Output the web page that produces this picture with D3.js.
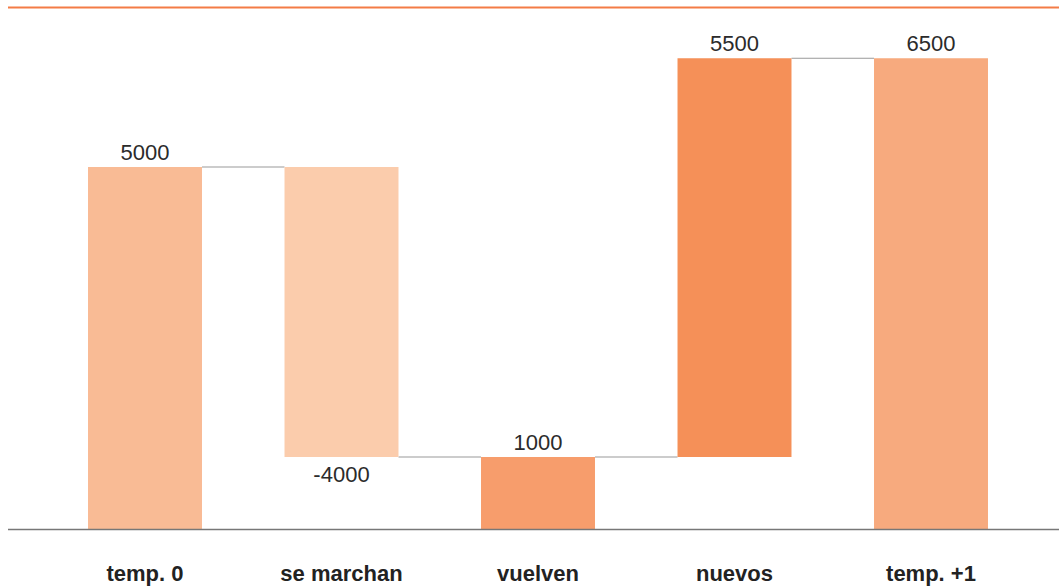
<!DOCTYPE html>
<html><head><meta charset="utf-8">
<script src="https://cdn.jsdelivr.net/npm/d3@7"></script>
<style>body{margin:0;background:#fff;}svg{display:block;font-family:"Liberation Sans",Arial,Helvetica,sans-serif;}</style>
</head><body><svg id="c" width="1059" height="586"></svg>
<script>
const categories = ["temp. 0","se marchan","vuelven","nuevos","temp. +1"];
const barStart = [0, 5000, 0, 1000, 0];
const barEnd   = [5000, 1000, 1000, 6500, 6500];
const valueLabels = ["5000","-4000","1000","5500","6500"];
const colors = ["#F9BB95","#FBCCAC","#F79D6C","#F59058","#F7AA7E"];

const svg = d3.select("#c");
const W = 1059;
const x = d3.scaleBand().domain(categories).range([46.75, 1029.25]).paddingInner(0.42).paddingOuter(0.21);
const y = d3.scaleLinear().domain([0, 5000]).range([529.5, 167]);

// top rule
svg.append("line").attr("x1",8).attr("x2",W).attr("y1",7.5).attr("y2",7.5)
  .attr("stroke","#F47C46").attr("stroke-width",2);

const data = categories.map((c,i)=>({c, s:barStart[i], e:barEnd[i], l:valueLabels[i], col:colors[i]}));

// connectors
for (let i=0;i<data.length-1;i++){
  const lvl = data[i].e;
  svg.append("line")
    .attr("x1", x(data[i].c)+x.bandwidth()).attr("x2", x(data[i+1].c))
    .attr("y1", y(lvl)).attr("y2", y(lvl))
    .attr("stroke","#999").attr("stroke-width",1);
}

svg.selectAll("rect.bar").data(data).join("rect").attr("class","bar")
  .attr("x", d=>x(d.c)).attr("width", x.bandwidth())
  .attr("y", d=>y(Math.max(d.s,d.e))).attr("height", d=>Math.abs(y(d.s)-y(d.e)))
  .attr("fill", d=>d.col);

// value labels
svg.selectAll("text.val").data(data).join("text").attr("class","val")
  .attr("x", d=>x(d.c)+x.bandwidth()/2)
  .attr("y", d=> d.e>=d.s ? y(d.e)-7 : y(d.e)+24.5)
  .attr("text-anchor","middle").attr("font-size",22).attr("fill","#2b2b2b")
  .text(d=>d.l);

// baseline
svg.append("line").attr("x1",8).attr("x2",W).attr("y1",529.5).attr("y2",529.5)
  .attr("stroke","#777").attr("stroke-width",1.5);

// category axis
const ax = svg.append("g").attr("transform","translate(0,529.5)")
  .call(d3.axisBottom(x).tickSize(0).tickPadding(0));
ax.select(".domain").remove();
ax.selectAll("text").attr("y",51).attr("dy",null).attr("font-size",22).attr("font-weight","bold")
  .attr("fill","#222").attr("font-family","\"Liberation Sans\",Arial,sans-serif");
</script></body></html>
